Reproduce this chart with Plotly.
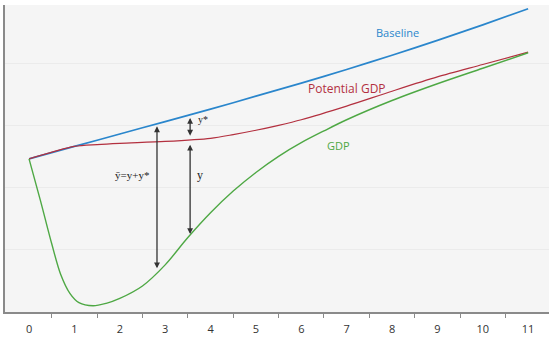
import numpy as np
import plotly.graph_objects as go

# ---- data ----
years = list(range(12))
tick_labels = [str(v) for v in years]

base_x = [0, 1, 2, 3, 4, 5, 6, 7, 8, 9, 10, 11]
base_y = [2.47, 2.67, 2.87, 3.07, 3.27, 3.48, 3.69, 3.91, 4.14, 4.38, 4.63, 4.89]

pot_x = [0, 1, 1.5, 2, 3, 4, 4.5, 5, 5.5, 6, 7, 8, 9, 10, 11]
pot_y = [2.47, 2.67, 2.70, 2.72, 2.75, 2.80, 2.86, 2.93, 3.01, 3.10, 3.32, 3.56, 3.79, 3.99, 4.19]

gdp_x = [0, 0.25, 0.5, 0.7, 0.9, 1.1, 1.41, 1.7, 2.0, 2.5, 3.0, 3.5, 4.0, 4.5, 5.0, 5.5, 6.0, 6.5, 7.0, 8.0, 9.0, 10.0, 11.0]
gdp_y = [2.47, 1.80, 1.10, 0.60, 0.30, 0.15, 0.10, 0.14, 0.22, 0.42, 0.76, 1.20, 1.60, 1.95, 2.25, 2.51, 2.73, 2.92, 3.10, 3.41, 3.68, 3.93, 4.18]

arrow_long_x = 2.82
arrow_short_x = 3.55

BLUE = "#2a86cc"
RED = "#b3303f"
GREEN = "#4ea844"
ARROW = "#333333"

fig = go.Figure()
fig.add_trace(go.Scatter(x=base_x, y=base_y, mode="lines", line=dict(color=BLUE, width=1.7, shape="spline", smoothing=0.6), hoverinfo="skip"))
fig.add_trace(go.Scatter(x=pot_x, y=pot_y, mode="lines", line=dict(color=RED, width=1.2, shape="spline", smoothing=0.8), hoverinfo="skip"))
fig.add_trace(go.Scatter(x=gdp_x, y=gdp_y, mode="lines", line=dict(color=GREEN, width=1.4, shape="spline", smoothing=0.9), hoverinfo="skip"))

def arrow(x, y0, y1):
    fig.add_annotation(x=x, y=y1, ax=x, ay=y0, xref="x", yref="y", axref="x", ayref="y",
                       showarrow=True, arrowhead=2, arrowside="end+start", arrowsize=0.9,
                       arrowwidth=1.3, arrowcolor=ARROW, text="", standoff=1, startstandoff=1)

b_long = float(np.interp(arrow_long_x, base_x, base_y))
g_long = float(np.interp(arrow_long_x, gdp_x, gdp_y))
arrow(arrow_long_x, b_long, g_long + 0.05)

b_s = float(np.interp(arrow_short_x, base_x, base_y))
p_s = float(np.interp(arrow_short_x, pot_x, pot_y))
g_s = float(np.interp(arrow_short_x, gdp_x, gdp_y))
arrow(arrow_short_x, b_s - 0.01, p_s + 0.05)
arrow(arrow_short_x, p_s - 0.04, g_s)

lab_font = "Open Sans, Noto Sans, sans-serif"
fig.add_annotation(x=8.11, y=4.50, text="Baseline", showarrow=False, font=dict(family=lab_font, size=11, color=BLUE))
fig.add_annotation(x=7.0, y=3.61, text="Potential GDP", showarrow=False, font=dict(family=lab_font, size=12, color=RED))
fig.add_annotation(x=6.82, y=2.69, text="GDP", showarrow=False, font=dict(family=lab_font, size=11, color=GREEN))

serif = "Liberation Serif, DejaVu Serif, serif"
fig.add_annotation(x=2.27, y=2.21, text="ȳ=y+y*", showarrow=False, font=dict(family=serif, size=11, color="#222"))
fig.add_annotation(x=3.77, y=2.21, text="y", showarrow=False, font=dict(family=serif, size=12, color="#222"))
fig.add_annotation(x=3.83, y=3.10, text="y*", showarrow=False, font=dict(family=serif, size=10, color="#222"))

fig.update_layout(
    width=554, height=353,
    margin=dict(l=5, r=5, t=5, b=41),
    paper_bgcolor="white", plot_bgcolor="#f5f5f5",
    showlegend=False,
    xaxis=dict(range=[-0.53, 11.46], tickvals=years, ticktext=tick_labels, ticks="",
               ticklabelstandoff=6,
               showgrid=False, zeroline=False, showline=True, linecolor="#8a8a8a", linewidth=2,
               tickfont=dict(family=lab_font, size=11, color="#333"),
               minor=dict(tickvals=[v + 0.5 for v in years[:-1]], ticks="outside", ticklen=4,
                          tickcolor="#8a8a8a", tickwidth=1, showgrid=False),
               fixedrange=True),
    yaxis=dict(range=[0, 4.95], tickvals=[1, 2, 3, 4], showticklabels=False, ticks="",
               showgrid=True, gridcolor="#ebebeb", gridwidth=1, zeroline=False,
               showline=True, linecolor="#8a8a8a", linewidth=2, fixedrange=True),
)

fig.write_html("out.html")
